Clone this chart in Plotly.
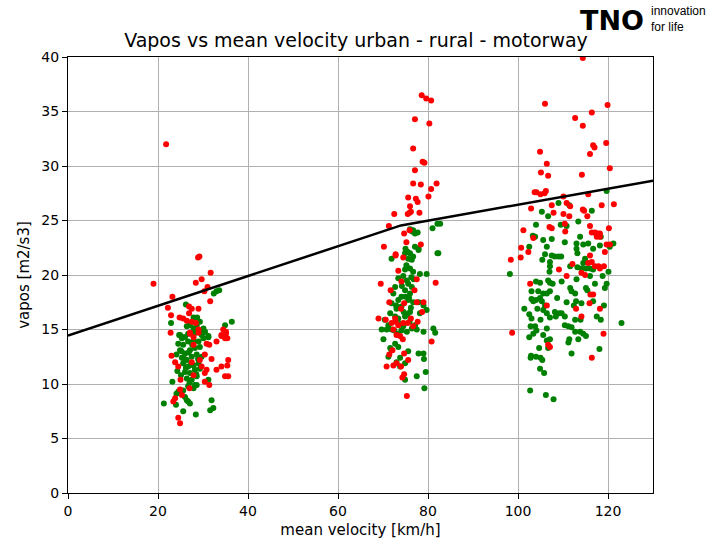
import plotly.graph_objects as go

# (mean velocity [km/h], vapos [m2/s3]) pairs
urban_green = [
    (24.7, 14.5), (25.3, 14.2), (26.0, 14.3), (26.7, 14.6), (27.5, 14.6), (28.2, 14.7),
    (29.0, 14.8), (29.7, 14.6), (30.4, 14.8), (31.2, 14.4), (24.5, 13.7), (25.6, 13.6),
    (26.7, 13.9), (27.9, 14.0), (29.0, 13.9), (30.1, 14.2), (24.9, 13.1), (26.0, 12.8),
    (27.1, 13.1), (28.2, 13.3), (29.3, 13.4), (24.1, 12.7), (25.3, 12.4), (26.4, 12.2),
    (27.5, 12.5), (28.6, 12.7), (29.7, 12.5), (25.6, 11.9), (26.7, 11.6), (27.9, 11.7),
    (29.0, 11.9), (26.0, 11.1), (27.1, 11.0), (28.2, 11.3), (29.3, 11.4), (26.4, 10.5),
    (27.5, 10.4), (28.6, 10.7), (23.2, 10.2), (28.2, 9.9), (31.2, 10.4), (24.5, 9.3),
    (25.6, 9.4), (26.7, 9.8), (27.9, 9.6), (28.6, 9.9), (24.1, 9.1), (26.0, 8.8),
    (26.4, 8.5), (27.1, 8.2), (21.3, 8.2), (24.0, 8.1), (31.9, 8.5), (32.3, 7.8),
    (31.6, 7.6), (25.6, 7.5), (28.4, 7.2), (26.7, 8.4), (26.4, 15.3), (27.1, 15.4),
    (27.9, 15.1), (28.6, 15.4), (29.3, 15.7), (30.1, 15.1), (30.4, 14.8), (24.9, 14.5),
    (25.6, 14.3), (31.2, 14.3), (34.9, 15.4), (36.4, 15.7), (28.2, 14.7), (29.7, 14.5),
    (32.4, 18.3), (33.0, 18.5), (33.6, 18.6), (26.2, 17.3), (27.9, 16.1), (28.7, 16.1),
    (22.9, 15.6), (25.2, 13.0), (26.8, 12.9), (27.6, 13.6), (25.9, 12.3), (28.9, 12.3),
    (26.2, 11.5), (27.3, 11.8), (28.5, 10.9), (25.1, 10.8), (27.0, 10.1), (24.3, 11.2),
]
urban_red = [
    (22.8, 14.7), (27.1, 14.6), (29.0, 14.7), (34.1, 14.5), (35.1, 14.8), (34.9, 14.2),
    (33.0, 13.9), (31.4, 13.6), (27.9, 13.6), (30.8, 13.7), (23.0, 12.6), (23.8, 12.0),
    (24.5, 11.6), (27.5, 12.0), (29.3, 12.2), (30.4, 12.7), (31.9, 12.3), (29.7, 11.6),
    (30.8, 11.3), (30.4, 11.0), (35.6, 12.2), (35.4, 11.7), (34.1, 11.6), (33.0, 11.3),
    (34.9, 10.7), (35.6, 10.7), (25.0, 10.4), (27.9, 10.8), (30.4, 10.2), (31.4, 9.9),
    (27.0, 9.6), (24.9, 9.5), (25.3, 9.0), (23.8, 8.7), (23.4, 8.4), (24.5, 6.9),
    (24.9, 6.4), (26.4, 15.8), (27.5, 15.7), (28.4, 15.6), (27.1, 14.7), (29.0, 15.0),
    (34.5, 15.0), (35.1, 14.6), (34.1, 14.4), (35.4, 14.2), (27.9, 14.3), (29.2, 21.7),
    (28.9, 21.6), (31.7, 20.2), (19.0, 19.2), (28.4, 19.3), (29.7, 19.6), (31.0, 18.9),
    (30.3, 18.5), (23.2, 18.0), (31.6, 17.6), (22.2, 17.0), (26.9, 17.1), (27.5, 16.9),
    (29.0, 16.9), (26.9, 16.5), (22.9, 16.3), (24.8, 16.1), (25.6, 16.0), (21.8, 32.0),
]
rural_green = [
    (75.3, 22.1), (76.0, 22.0), (76.7, 21.7), (76.4, 21.4), (75.6, 21.5), (77.9, 22.3),
    (82.3, 22.0), (71.9, 21.5), (79.7, 20.1), (78.2, 20.1), (74.9, 20.5), (76.0, 20.6),
    (76.7, 20.3), (74.5, 19.9), (75.3, 19.5), (75.6, 19.2), (76.4, 18.9), (74.9, 18.6),
    (76.0, 18.3), (74.1, 18.0), (75.6, 17.7), (76.7, 17.5), (73.4, 19.7), (72.7, 18.9),
    (72.3, 18.3), (73.4, 17.7), (71.9, 17.4), (73.0, 16.9), (74.1, 17.1), (71.6, 16.5),
    (72.7, 16.2), (73.4, 16.0), (74.9, 16.2), (70.4, 15.9), (71.2, 15.4), (69.7, 15.0),
    (70.8, 15.0), (71.9, 15.0), (74.1, 14.9), (75.3, 14.8), (76.4, 15.1), (77.5, 15.0),
    (79.0, 14.8), (81.2, 15.1), (81.6, 14.7), (77.1, 15.4), (76.0, 16.6), (78.2, 16.5),
    (79.0, 17.2), (77.9, 17.5), (79.7, 16.8), (70.1, 14.1), (72.7, 13.7), (73.4, 13.4),
    (71.6, 13.3), (75.6, 13.0), (77.9, 12.8), (79.0, 12.8), (79.1, 12.3), (73.8, 12.4),
    (73.0, 12.0), (74.9, 11.9), (79.5, 11.1), (77.5, 10.7), (73.8, 11.6), (74.9, 10.4),
    (79.2, 9.6), (71.9, 13.1), (71.2, 12.5), (76.0, 24.2), (76.5, 24.0), (77.1, 23.8),
    (77.7, 23.9), (76.7, 24.1), (81.0, 24.3), (82.1, 24.7), (82.7, 24.7), (77.1, 22.6),
    (77.9, 22.4), (75.0, 22.4), (75.5, 22.1), (74.9, 22.0), (82.1, 22.0), (75.0, 18.0),
    (75.8, 17.9), (76.2, 17.0), (74.6, 16.6), (75.4, 16.4), (73.8, 15.5), (74.5, 15.3),
    (75.9, 15.7), (73.2, 14.6), (72.5, 14.9), (76.8, 19.6), (75.2, 20.9), (76.3, 19.8),
    (74.2, 19.0), (72.9, 17.2),
]
rural_red = [
    (72.8, 21.8), (74.5, 21.6), (73.4, 20.4), (69.5, 19.2), (74.1, 19.4), (77.5, 19.6),
    (77.0, 18.6), (81.7, 19.3), (71.7, 18.6), (71.4, 17.5), (74.7, 17.4), (77.5, 17.5),
    (79.0, 17.5), (78.7, 16.6), (74.0, 16.9), (69.0, 16.0), (70.6, 15.9), (72.7, 16.0),
    (72.8, 15.7), (71.9, 15.6), (73.4, 15.4), (74.5, 15.6), (75.5, 15.6), (76.2, 16.0),
    (77.7, 15.7), (72.3, 15.0), (73.0, 14.5), (73.8, 14.4), (74.4, 14.1), (80.8, 13.9),
    (72.1, 13.1), (71.4, 12.7), (74.7, 12.8), (75.6, 12.2), (70.8, 11.6), (72.3, 11.7),
    (73.0, 11.9), (74.0, 11.6), (74.3, 10.6), (74.7, 10.9), (75.3, 8.9), (76.7, 15.3),
    (78.6, 36.5), (79.6, 36.2), (80.7, 36.0), (77.1, 34.3), (80.3, 33.9), (76.7, 31.6),
    (78.8, 30.4), (79.2, 30.3), (77.1, 29.6), (76.7, 28.4), (78.4, 28.3), (81.9, 28.4),
    (80.7, 27.9), (80.1, 27.2), (75.6, 27.1), (77.3, 27.0), (77.7, 26.7), (76.0, 26.3),
    (72.5, 25.6), (75.5, 25.6), (75.9, 25.7), (76.2, 25.8), (78.1, 25.7), (71.3, 24.5),
    (75.9, 24.1), (74.7, 23.8), (70.2, 22.6), (75.2, 23.0), (78.4, 22.8), (72.8, 21.9),
]
motorway_green = [
    (109.0, 26.6), (111.4, 26.4), (105.3, 25.8), (106.7, 25.4), (116.4, 25.9), (119.7, 27.7),
    (104.0, 24.6), (109.5, 24.6), (110.8, 24.5), (113.4, 24.9), (103.3, 23.6), (103.8, 23.5),
    (113.8, 23.5), (105.6, 23.2), (107.5, 23.3), (117.5, 23.6), (118.4, 23.5), (110.4, 23.0),
    (113.0, 22.9), (114.5, 22.8), (115.6, 22.9), (102.5, 22.6), (106.4, 22.6), (113.0, 22.4),
    (113.2, 22.0), (116.7, 22.4), (118.2, 22.7), (121.2, 22.9), (120.4, 22.6), (106.0, 21.9),
    (107.5, 21.8), (108.2, 21.7), (109.0, 21.7), (109.6, 21.7), (105.4, 21.4), (107.1, 21.2),
    (107.1, 20.8), (107.0, 20.3), (114.9, 21.5), (114.5, 21.1), (111.6, 20.8), (113.2, 20.7),
    (114.1, 20.6), (115.1, 20.6), (116.0, 20.6), (116.7, 20.5), (120.1, 20.3), (98.2, 20.1),
    (113.0, 19.6), (116.0, 19.9), (117.1, 19.2), (118.8, 19.9), (119.7, 19.2), (119.3, 18.8),
    (104.0, 19.4), (104.9, 19.3), (106.7, 19.5), (107.1, 19.3), (107.7, 19.2), (109.7, 19.4),
    (111.6, 18.8), (111.9, 18.5), (112.7, 18.3), (115.1, 18.8), (115.4, 18.6), (103.0, 18.5),
    (104.5, 18.5), (105.6, 18.3), (106.4, 18.3), (107.1, 18.5), (103.0, 17.8), (103.4, 17.6),
    (104.0, 17.7), (104.9, 17.9), (105.3, 17.6), (106.0, 17.2), (108.7, 17.9), (110.8, 17.5),
    (112.9, 17.6), (112.4, 17.2), (114.1, 17.4), (116.7, 17.6), (119.1, 17.2), (101.4, 16.9),
    (104.3, 16.9), (105.6, 16.8), (106.4, 16.5), (108.2, 16.6), (108.4, 16.2), (109.2, 16.5),
    (109.7, 16.5), (110.4, 16.2), (102.5, 16.4), (103.0, 16.0), (105.0, 15.9), (107.1, 16.1),
    (112.7, 15.9), (113.9, 15.9), (117.5, 16.2), (118.4, 15.9), (102.8, 15.3), (103.8, 15.3),
    (106.4, 15.1), (110.4, 15.4), (111.2, 15.3), (111.9, 15.2), (112.7, 14.8), (113.8, 14.8),
    (104.1, 14.9), (103.4, 14.6), (102.5, 14.3), (105.6, 14.5), (106.4, 14.0), (107.1, 14.1),
    (106.7, 13.3), (111.4, 14.1), (111.2, 13.8), (113.4, 14.1), (114.5, 14.6), (115.1, 14.4),
    (104.7, 13.3), (118.1, 13.2), (111.9, 12.8), (102.9, 12.6), (102.8, 12.4), (104.0, 12.5),
    (105.0, 12.4), (105.4, 12.2), (104.9, 11.4), (105.8, 11.0), (123.0, 15.6), (102.7, 9.4),
    (106.2, 9.0), (107.9, 8.6),
]
motorway_red = [
    (114.4, 39.9), (106.0, 35.7), (119.9, 35.6), (116.4, 34.9), (112.7, 34.4), (114.4, 33.7),
    (116.7, 31.9), (117.0, 31.7), (119.6, 32.1), (104.9, 31.3), (116.0, 31.1), (106.4, 30.2),
    (120.4, 29.8), (105.1, 29.4), (106.7, 29.1), (114.2, 29.2), (103.7, 27.6), (104.1, 27.6),
    (105.0, 27.4), (105.9, 27.5), (106.2, 27.7), (110.1, 27.2), (115.6, 27.4), (102.9, 26.1),
    (107.5, 26.4), (110.8, 26.6), (111.6, 26.3), (118.6, 26.4), (121.3, 26.5), (114.4, 26.0),
    (114.7, 25.9), (107.9, 25.7), (110.1, 25.6), (111.4, 25.4), (115.4, 25.4), (101.2, 24.1),
    (107.0, 24.4), (107.5, 24.3), (110.4, 24.7), (110.5, 24.0), (116.0, 24.5), (116.4, 23.9),
    (117.1, 23.9), (117.7, 23.8), (118.2, 23.8), (120.2, 24.3), (103.4, 23.4), (118.2, 23.5),
    (117.5, 23.5), (100.7, 22.5), (102.3, 22.1), (119.7, 22.8), (120.4, 22.8), (119.3, 22.1),
    (98.4, 21.4), (100.6, 21.6), (116.0, 21.8), (116.4, 21.2), (115.6, 21.1), (112.1, 21.0),
    (117.1, 20.8), (117.9, 20.8), (119.1, 20.8), (118.2, 20.6), (114.1, 20.2), (114.9, 20.0),
    (109.1, 20.5), (110.8, 19.9), (102.7, 19.2), (116.1, 18.2), (116.7, 18.2), (106.4, 17.2),
    (115.9, 17.4), (118.2, 16.9), (112.9, 16.9), (114.1, 16.2), (119.0, 14.6), (98.7, 14.7),
    (106.7, 13.6), (107.1, 13.4), (116.4, 12.4),
]

# fitted limit line
line_x = [0, 74, 130]
line_y = [14.45, 24.55, 28.65]

x_ticks = [0, 20, 40, 60, 80, 100, 120]
y_ticks = [0, 5, 10, 15, 20, 25, 30, 35, 40]

GREEN = "#008000"
RED = "#ff0000"
FONT = "DejaVu Sans"

fig = go.Figure()

for pts, colour in [
    (urban_green, GREEN), (rural_green, GREEN), (motorway_green, GREEN),
    (urban_red, RED), (rural_red, RED), (motorway_red, RED),
]:
    xs, ys = zip(*pts)
    fig.add_trace(go.Scatter(
        x=xs, y=ys, mode="markers",
        marker=dict(color=colour, size=6, line=dict(width=0)),
        showlegend=False,
    ))

fig.add_trace(go.Scatter(
    x=line_x, y=line_y, mode="lines",
    line=dict(color="black", width=2.5),
    showlegend=False,
))

axis_style = dict(
    showgrid=True, gridcolor="#b0b0b0", gridwidth=1.3,
    showline=True, linecolor="black", linewidth=1, mirror=True,
    ticks="outside", ticklen=5, tickcolor="black",
    zeroline=False, automargin=False,
    tickfont=dict(family=FONT, size=14, color="black"),
)

fig.update_xaxes(
    range=[0, 130], tickvals=x_ticks,
    title=dict(text="mean velocity [km/h]", font=dict(family=FONT, size=15, color="black"), standoff=6),
    **axis_style,
)
fig.update_yaxes(
    range=[0, 40], tickvals=y_ticks,
    title=dict(text="vapos [m2/s3]", font=dict(family=FONT, size=15, color="black"), standoff=8),
    **axis_style,
)

fig.update_layout(
    width=712, height=544,
    margin=dict(l=68, r=59, t=57, b=51),
    paper_bgcolor="white", plot_bgcolor="white",
    title=dict(
        text="Vapos vs mean velocity urban - rural - motorway",
        x=0.5, xanchor="center", y=0.925, yanchor="middle",
        font=dict(family=FONT, size=19, color="black"),
    ),
    annotations=[
        # TNO logo in the top right corner
        dict(text="<b>TNO</b>", xref="paper", yref="paper", x=0.988, y=1.083,
             xanchor="right", yanchor="middle", showarrow=False,
             font=dict(family="DejaVu Sans", size=27, color="black")),
        dict(text="innovation<br>for life", xref="paper", yref="paper", x=0.993, y=1.087,
             xanchor="left", yanchor="middle", showarrow=False, align="left",
             font=dict(family="Liberation Sans Narrow, Liberation Sans", size=12, color="black")),
    ],
)

# drop the default page margin so the figure sits at the window's corner
fig.write_html(
    "out.html",
    config={"displayModeBar": False},
    post_script="document.body.style.margin='0';",
)
